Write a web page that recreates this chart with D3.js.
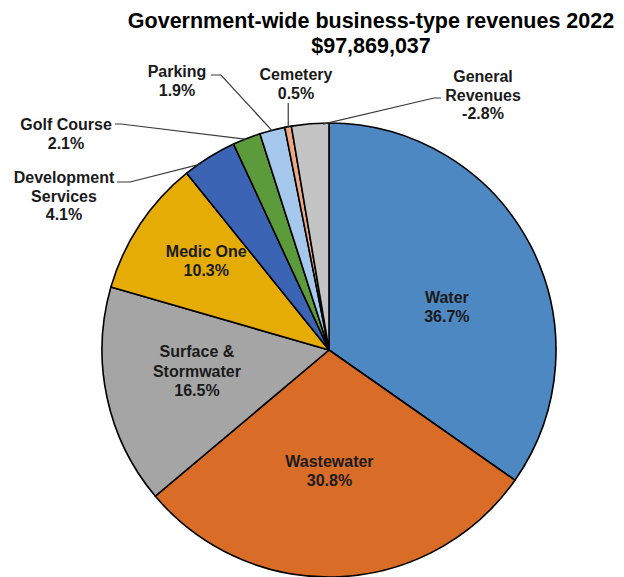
<!DOCTYPE html>
<html>
<head>
<meta charset="utf-8">
<script src="https://cdn.jsdelivr.net/npm/d3@7"></script>
<style>
  html, body { margin: 0; padding: 0; background: #fff; }
  svg { display: block; font-family: "Liberation Sans", Arial, sans-serif; }
</style>
</head>
<body>
<svg id="chart" width="624" height="577"></svg>
<script>
// Revenue shares by business-type activity (percent of total)
const categories = ["Water", "Wastewater", "Surface & Stormwater", "Medic One",
  "Development Services", "Golf Course", "Parking", "Cemetery", "General Revenues"];
const shares = [36.7, 30.8, 16.5, 10.3, 4.1, 2.1, 1.9, 0.5, -2.8];
const colors = ["#4e88c2", "#d96d28", "#a5a5a5", "#e6ac06",
  "#3c64b4", "#5b9b3c", "#a6c8ec", "#f0a884", "#c4c4c4"];
// How each label is written (line breaks)
const labelLines = [["Water"], ["Wastewater"], ["Surface &", "Stormwater"], ["Medic One"],
  ["Development", "Services"], ["Golf Course"], ["Parking"], ["Cemetery"], ["General", "Revenues"]];
const titleLines = ["Government-wide business-type revenues 2022", "$97,869,037"];

const svg = d3.select("#chart");
const cx = 329, cy = 350, r = 227;

// Title
svg.append("text")
  .attr("x", 371).attr("y", 28)
  .attr("text-anchor", "middle")
  .style("font-size", "21.5px").style("font-weight", "bold").attr("fill", "#000")
  .selectAll("tspan").data(titleLines).join("tspan")
  .attr("x", 371).attr("dy", (d, i) => i === 0 ? 0 : 25)
  .text(d => d);

const data = categories.map((c, i) => ({ name: c, share: shares[i], color: colors[i], lines: labelLines[i] }));

const pie = d3.pie().sort(null).value(d => Math.abs(d.share));
const arcs = pie(data);
const arc = d3.arc().innerRadius(0).outerRadius(r);

const g = svg.append("g").attr("transform", `translate(${cx},${cy})`);

g.selectAll("path.slice").data(arcs).join("path")
  .attr("class", "slice")
  .attr("d", arc)
  .attr("fill", d => d.data.color)
  .attr("stroke", "#000")
  .attr("stroke-width", 1.6)
  .attr("stroke-linejoin", "round");

const pct = v => (v < 0 ? "-" : "") + Math.abs(v).toFixed(1) + "%";

// Labels inside the larger slices: distance along the bisector plus a small nudge
const inside = {
  "Water": { dist: 125, nx: 7, ny: 15 },
  "Wastewater": { dist: 121.5, nx: -5, ny: 0 },
  "Surface & Stormwater": { dist: 134, nx: -1, ny: -6 },
  "Medic One": { dist: 151, nx: 3, ny: -5 }
};

arcs.forEach(a => {
  const spec = inside[a.data.name];
  if (!spec) return;
  const mid = (a.startAngle + a.endAngle) / 2;
  const px = Math.sin(mid) * spec.dist + spec.nx;
  const py = -Math.cos(mid) * spec.dist + spec.ny;
  const lines = a.data.lines.concat([pct(a.data.share)]);
  const lh = 19.5;
  const y0 = py - (lines.length - 1) * lh / 2 + 5;
  const t = g.append("text")
    .attr("text-anchor", "middle")
    .style("font-size", "16px").style("font-weight", "bold")
    .attr("fill", "#1a1a1a");
  lines.forEach((s, i) => {
    t.append("tspan").attr("x", px).attr("y", y0 + i * lh).text(s);
  });
});

// Outside labels with leader lines for the small slices
// frac: where along the slice's arc the leader line meets the edge
const outside = {
  "Development Services": { tx: 64, ty: 183, anchorX: 117, anchorY: 182, elbow: 130, frac: 0.3 },
  "Golf Course": { tx: 66, ty: 130, anchorX: 115, anchorY: 124, elbow: 121, frac: 0.5 },
  "Parking": { tx: 177, ty: 77, anchorX: 211, anchorY: 75, elbow: 221, frac: 0.5 },
  "Cemetery": { tx: 296, ty: 80, vertical: true, frac: 0.5 },
  "General Revenues": { tx: 483, ty: 82, anchorX: 441, anchorY: 98, elbow: 434, frac: 0.84 }
};

arcs.forEach(a => {
  const spec = outside[a.data.name];
  if (!spec) return;
  const lines = a.data.lines.concat([pct(a.data.share)]);
  const lh = 18.5;
  const t = svg.append("text")
    .attr("text-anchor", "middle")
    .style("font-size", "16px").style("font-weight", "bold")
    .attr("fill", "#1a1a1a");
  lines.forEach((s, i) => {
    t.append("tspan").attr("x", spec.tx).attr("y", spec.ty + i * lh).text(s);
  });

  const ang = a.startAngle + (a.endAngle - a.startAngle) * spec.frac;
  const ex = cx + Math.sin(ang) * (r - 1);
  const ey = cy - Math.cos(ang) * (r - 1);
  let pts;
  if (spec.vertical) {
    pts = [[ex, spec.ty + 23], [ex, ey]];
  } else {
    pts = [[spec.anchorX, spec.anchorY], [spec.elbow, spec.anchorY], [ex, ey]];
  }
  svg.append("path")
    .attr("d", d3.line()(pts))
    .attr("fill", "none")
    .attr("stroke", "#3a3a3a")
    .attr("stroke-width", 1.2);
});
</script>
</body>
</html>
